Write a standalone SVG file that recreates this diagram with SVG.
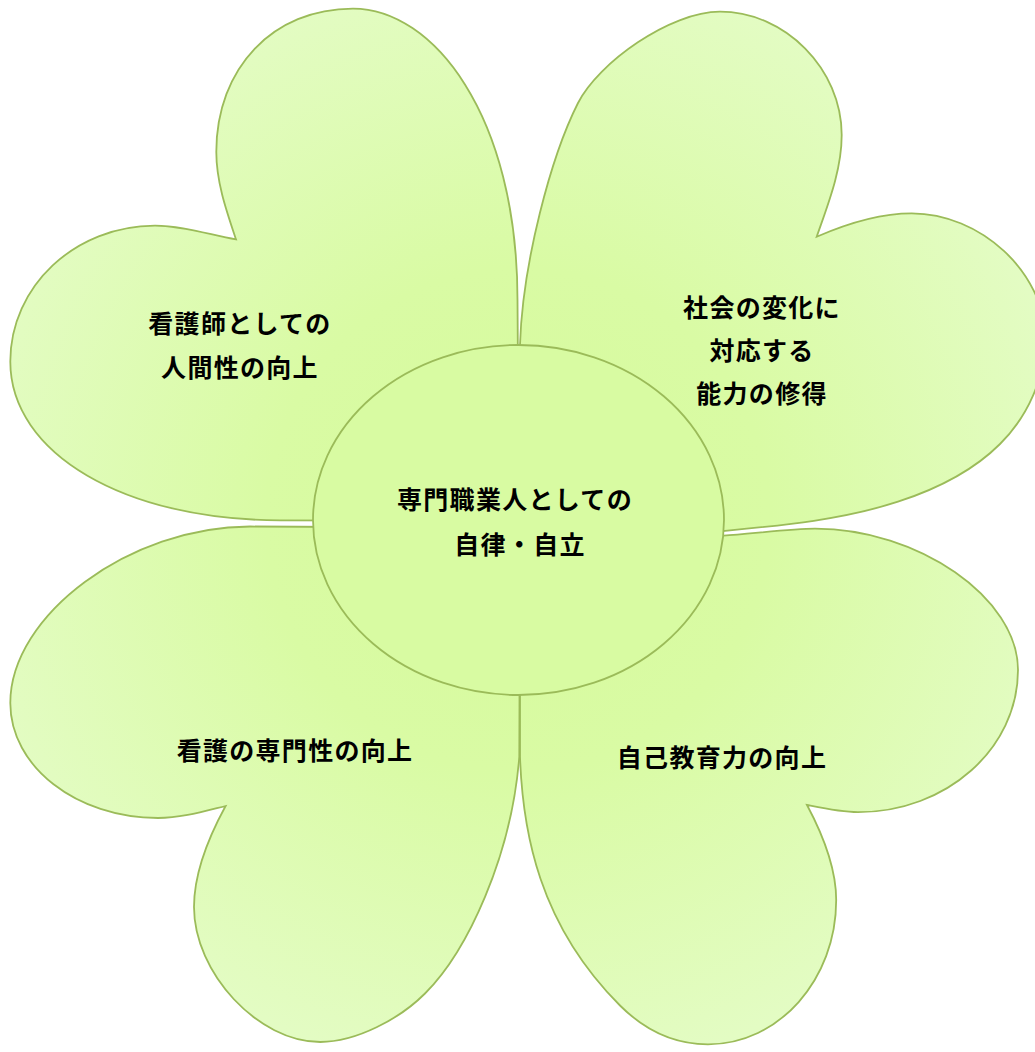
<svg xmlns="http://www.w3.org/2000/svg" width="1035" height="1052" viewBox="0 0 1035 1052">
  <defs>
    <radialGradient id="petalFill" gradientUnits="userSpaceOnUse" cx="518" cy="520" r="560">
      <stop offset="0" stop-color="#d6fa9c"/>
      <stop offset="0.45" stop-color="#d9fba4"/>
      <stop offset="1" stop-color="#e3fcc3"/>
    </radialGradient>
  </defs>
  <style>
    .petal { fill: url(#petalFill); stroke: #9bbb59; stroke-width: 1.8; stroke-linejoin: miter; }
    .hub { fill: #d8fba2; stroke: #9bbb59; stroke-width: 1.8; }
    .lbl { font-family: "Noto Sans CJK JP", "Noto Sans", sans-serif; font-size: 25px; font-weight: 700; fill: #000000; text-anchor: middle; letter-spacing: 1.3px; }
  </style>
  <rect x="0" y="0" width="1035" height="1052" fill="#ffffff"/>

  <g id="petal-top-left">
    <path class="petal" d="M 519,521 L 517.5,300 C 517.5,115 433,8.6 353,8.6 C 273,8.6 216.3,68 216.3,152 C 216.3,182 226.4,210.9 236,239.4 C 209.5,234.6 182,225.6 155,225.6 C 75.1,225.6 10.3,286.5 10.3,361.6 C 10.3,453.6 125,520.3 280,520.3 L 519,521 Z"/>
    <text class="lbl" x="240" y="333">看護師としての</text>
    <text class="lbl" x="240" y="377">人間性の向上</text>
  </g>

  <g id="petal-top-right">
    <path class="petal" d="M 521,533 L 520,345 C 522.5,263 551,156.4 578,103 C 598.25,63 670,11.7 720,11.7 C 785,11.7 841.7,69 841.7,135 C 841.7,170 828.2,203.7 816.7,236.7 C 846,223.9 879.7,213.3 911.7,213.3 C 979.7,213.3 1045,272 1045,338 C 1045,378 1028.3,415.7 1000,444 C 971.7,472.3 936,489.3 898,501.7 C 842,520 781.7,525.4 723,531 L 521,533 Z"/>
    <text class="lbl" x="762" y="317">社会の変化に</text>
    <text class="lbl" x="762" y="360">対応する</text>
    <text class="lbl" x="762" y="403">能力の修得</text>
  </g>

  <g id="petal-bottom-left">
    <path class="petal" d="M 519,528 L 250,526.5 C 130,526.5 10.3,615 10.3,703 C 10.3,766.5 76.4,818 158,818 C 181,818 203.3,811.5 225.6,806 C 208.8,836.8 194,872 194,907 C 194,973 258.3,1042 320.3,1042 C 356.3,1042 399.5,1019 425,993.5 C 467.4,951.1 511.5,856.4 519.3,756.7 L 519.5,700 L 519,528 Z"/>
    <text class="lbl" x="295" y="760">看護の専門性の向上</text>
  </g>

  <g id="petal-bottom-right">
    <path class="petal" d="M 520,537 L 723.5,535.6 C 750,534 790,528.7 815,528.7 C 918,528.7 1018,598 1018,670 C 1018,748.5 946.4,812.2 858,812.2 C 841,812.2 823.7,808.4 807,805 C 822.5,834 836.2,867 836.2,900 C 836.2,979.7 778.8,1044.3 708,1044.3 C 674,1044.3 644,1029.5 620,1005.5 C 538.7,924.2 522.6,831.7 520,756.7 L 520,700 L 520,537 Z"/>
    <text class="lbl" x="722" y="767">自己教育力の向上</text>
  </g>

  <g id="center">
    <ellipse class="hub" cx="518.5" cy="520" rx="205.5" ry="175"/>
    <text class="lbl" x="515" y="509">専門職業人としての</text>
    <text class="lbl" x="520" y="554">自律・自立</text>
  </g>
</svg>
